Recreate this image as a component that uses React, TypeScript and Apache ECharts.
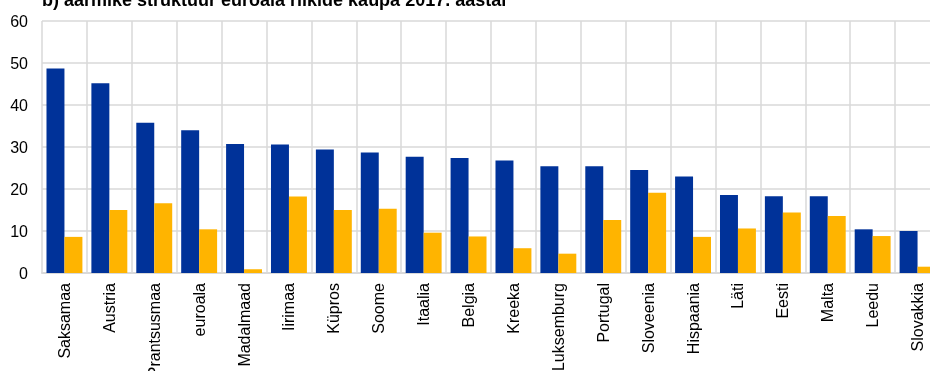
import React, { useEffect, useRef } from "react";
import * as echarts from "echarts";

const titleText = "b) äärmike struktuur euroala riikide kaupa 2017. aastal";

const categories = [
  "Saksamaa", "Austria", "Prantsusmaa", "euroala", "Madalmaad", "Iirimaa",
  "Küpros", "Soome", "Itaalia", "Belgia", "Kreeka", "Luksemburg", "Portugal",
  "Sloveenia", "Hispaania", "Läti", "Eesti", "Malta", "Leedu", "Slovakkia",
];

const seriesBlue = [
  48.7, 45.2, 35.8, 34.0, 30.7, 30.6, 29.4, 28.7, 27.7, 27.4, 26.8, 25.4, 25.4,
  24.5, 23.0, 18.6, 18.3, 18.3, 10.4, 10.0,
];

const seriesYellow = [
  8.6, 15.0, 16.6, 10.4, 0.9, 18.2, 15.0, 15.3, 9.6, 8.7, 5.9, 4.6, 12.6,
  19.1, 8.6, 10.6, 14.4, 13.6, 8.8, 1.5,
];

export default function App() {
  const ref = useRef<HTMLDivElement>(null);
  useEffect(() => {
    if (!ref.current) return;
    const chart = echarts.init(ref.current, null, { renderer: "svg" });
    const font = "Liberation Sans, Arial, sans-serif";
    chart.setOption({
      animation: false,
      textStyle: { fontFamily: font },
      graphic: [
        {
          type: "text",
          left: 42,
          top: -9,
          style: {
            text: titleText,
            font: "bold 18px Liberation Sans, Arial, sans-serif",
            fill: "#000",
          },
        },
      ],
      grid: {
        left: 42,
        right: -10,
        top: 21,
        bottom: 98,
        containLabel: false,
        outerBoundsMode: "none",
      },
      xAxis: {
        type: "category",
        data: categories,
        axisLine: { show: true, lineStyle: { color: "#d9d9d9", width: 2 } },
        axisTick: { show: false },
        splitLine: { show: true, lineStyle: { color: "#d9d9d9", width: 1.5 } },
        axisLabel: {
          rotate: 90,
          interval: 0,
          margin: 10,
          fontSize: 16,
          color: "#000",
          fontFamily: font,
        },
      },
      yAxis: {
        type: "value",
        min: 0,
        max: 60,
        interval: 10,
        axisLine: { show: false },
        axisTick: { show: false },
        splitLine: { show: true, lineStyle: { color: "#d9d9d9", width: 1.5 } },
        axisLabel: { margin: 14, fontSize: 16, color: "#000", fontFamily: font },
      },
      series: [
        {
          type: "bar",
          data: seriesBlue,
          itemStyle: { color: "#003299" },
          barGap: "0%",
          barCategoryGap: "20%",
        },
        {
          type: "bar",
          data: seriesYellow,
          itemStyle: { color: "#FFB400" },
          barGap: "0%",
          barCategoryGap: "20%",
        },
      ],
    });
    return () => chart.dispose();
  }, []);
  return (
    <div
      ref={ref}
      style={{ position: "fixed", left: 0, top: 0, width: 930, height: 371 }}
    />
  );
}
